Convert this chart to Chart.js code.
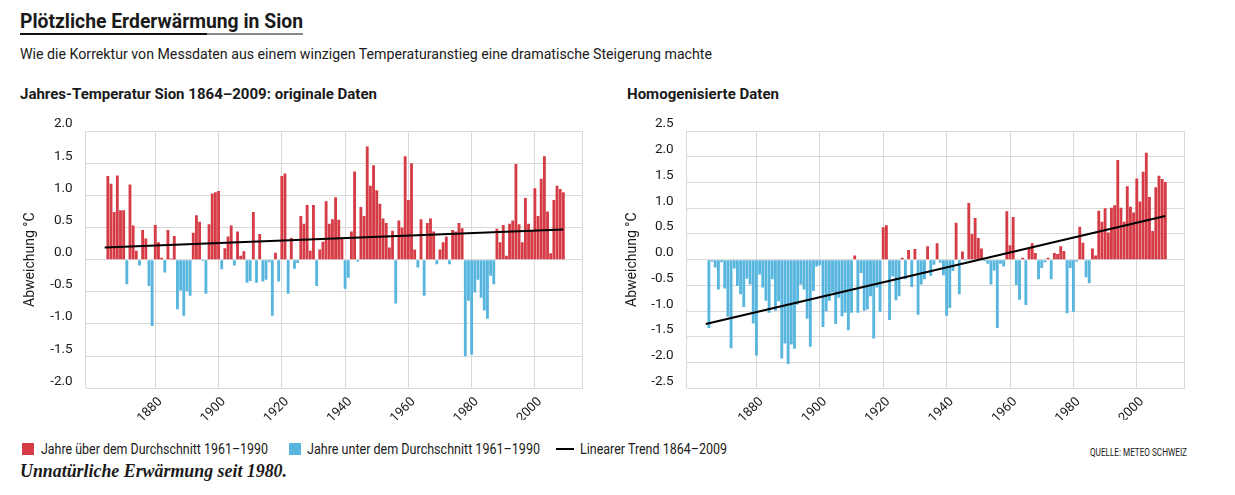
<!DOCTYPE html>
<html lang="de">
<head>
<meta charset="utf-8">
<title>Plötzliche Erderwärmung in Sion</title>
<script src="https://cdn.jsdelivr.net/npm/chart.js@4.4.0/dist/chart.umd.min.js"></script>
<style>
  body { margin: 0; background: #fff; }
  #page {
    position: relative; width: 1235px; height: 495px; overflow: hidden;
    font-family: Roboto, "Liberation Sans", sans-serif;
    color: #1a1a1a;
  }
  .abs { position: absolute; white-space: nowrap; transform-origin: 0 0; }
  #title { left: 20px; top: 9px; font-size: 21px; line-height: 24px; font-weight: bold; }
  #rule1 { left: 20px; top: 33px; width: 187px; height: 2px; background: #111; }
  #rule2 { left: 207px; top: 33px; width: 96px; height: 2px; background: #888; }
  #subtitle { left: 20px; top: 45px; font-size: 15px; line-height: 18px; }
  .ctitle { top: 85px; font-size: 15.5px; line-height: 18px; font-weight: bold; }
  .box { position: absolute; }
  .swatch { position: absolute; top: 443px; width: 12px; height: 12px; }
  .ltext { top: 441px; font-size: 14px; line-height: 16px; }
  #source { left: 1090px; top: 447px; font-size: 10px; line-height: 12px; }
  #footer { left: 20px; top: 461px; font-family: "Liberation Serif", "DejaVu Serif", serif;
            font-style: italic; font-weight: bold; font-size: 18px; line-height: 20px; }
</style>
</head>
<body>
<div id="page">
  <div class="abs" id="title" data-w="283">Plötzliche Erderwärmung in Sion</div>
  <div class="abs" id="rule1"></div>
  <div class="abs" id="rule2"></div>
  <div class="abs" id="subtitle" data-w="692">Wie die Korrektur von Messdaten aus einem winzigen Temperaturanstieg eine dramatische Steigerung machte</div>

  <div class="abs ctitle" style="left:20px" data-w="357">Jahres-Temperatur Sion 1864–2009: originale Daten</div>
  <div class="abs ctitle" style="left:627px" data-w="152">Homogenisierte Daten</div>

  <div class="box" style="left:10px; top:110px; width:590px; height:310px;"><canvas id="original" width="590" height="310"></canvas></div>
  <div class="box" style="left:612px; top:110px; width:590px; height:310px;"><canvas id="homogen" width="590" height="310"></canvas></div>

  <div class="swatch" style="left:22px; background:#d63c46"></div>
  <div class="abs ltext" style="left:41px" data-w="227">Jahre über dem Durchschnitt 1961–1990</div>
  <div class="swatch" style="left:289px; background:#58b6de"></div>
  <div class="abs ltext" style="left:307px" data-w="233">Jahre unter dem Durchschnitt 1961–1990</div>
  <div class="abs" style="left:556px; top:448px; width:18px; height:2px; background:#000"></div>
  <div class="abs ltext" style="left:580px" data-w="147">Linearer Trend 1864–2009</div>
  <div class="abs" id="source" data-w="97">QUELLE: METEO SCHWEIZ</div>

  <div class="abs" id="footer" data-w="267">Unnatürliche Erwärmung seit 1980.</div>
</div>

<script>
// Jahre 1865-2009, ein Balken pro Jahr
var firstYear = 1865;
var lastYear = 2009;

// Abweichung vom Mittel 1961-1990, originale Messreihe (°C)
var originalTemps = [
  1.30, 1.18, 0.74, 1.31, 0.77, 0.77, -0.38, 1.17, 0.53, 0.14,
  -0.09, 0.46, 0.33, -0.41, -1.03, 0.54, 0.27, 0.03, -0.20, 0.46,
  0.02, 0.37, -0.77, -0.48, -0.87, -0.49, -0.56, 0.42, 0.69, 0.59,
  -0.02, -0.53, 0.55, 1.03, 1.05, 1.07, -0.15, 0.18, 0.36, 0.53,
  -0.09, 0.44, 0.06, 0.13, -0.36, -0.33, 0.74, -0.36, 0.40, -0.34,
  -0.31, -0.04, -0.87, 0.11, -0.34, 1.30, 1.34, -0.53, 0.34, -0.14,
  -0.05, 0.68, 0.56, 0.85, 0.14, 0.85, -0.41, 0.16, 0.28, 0.91,
  0.56, 0.63, 0.97, 0.62, 0.34, -0.45, -0.28, 0.44, 1.37, -0.03,
  0.82, 0.68, 1.76, 1.15, 1.47, 1.08, 0.87, 0.64, 0.57, 0.19,
  0.45, -0.68, 0.61, 0.50, 1.61, 0.93, 1.50, 0.16, -0.12, 0.63,
  -0.56, 0.57, 0.64, 0.44, -0.07, 0.16, 0.27, 0.36, -0.07, 0.46,
  0.44, 0.57, 0.49, -1.50, -0.64, -1.48, -0.51, -0.31, -0.59, -0.79,
  -0.92, -0.25, -0.38, 0.48, 0.27, 0.54, 0.06, 0.56, 0.61, 1.49,
  0.55, 0.27, 0.96, 0.56, 0.46, 1.11, 0.68, 1.26, 1.61, 0.75,
  0.10, 0.93, 1.15, 1.10, 1.05
];

// Abweichung, homogenisierte Reihe (°C)
var homogenTemps = [
  -1.33, -0.04, -0.15, -0.58, -0.05, -0.56, -1.11, -1.72, -0.17, -0.51,
  -0.67, -0.92, -0.37, -0.48, -1.24, -1.86, -0.29, -0.54, -0.80, -1.03,
  -0.38, -0.99, -0.81, -1.92, -1.63, -2.03, -1.65, -1.73, -0.87, -0.48,
  -0.58, -1.15, -1.69, -0.61, -0.13, -0.11, -1.31, -1.00, -0.80, -0.64,
  -1.25, -0.74, -1.10, -1.03, -1.37, -1.03, 0.08, -1.03, -0.26, -0.99,
  -0.97, -0.71, -1.53, -0.54, -1.01, 0.63, 0.67, -1.17, -0.32, -0.79,
  -0.71, 0.04, -0.38, 0.19, -0.53, 0.21, -1.07, -0.48, -0.38, 0.26,
  -0.31, -0.10, 0.32, -0.06, -0.30, -1.09, -0.94, -0.22, 0.72, -0.67,
  0.16, -0.02, 1.10, 0.50, 0.81, 0.42, 0.22, -0.03, -0.08, -0.48,
  -0.21, -1.33, -0.08, -0.13, 0.94, 0.28, 0.83, -0.49, -0.78, 0.04,
  -0.88, 0.22, 0.32, 0.13, -0.38, -0.16, -0.05, 0.04, -0.38, 0.13,
  0.11, 0.26, 0.17, -1.04, -0.16, -1.01, -0.04, 0.64, 0.33, -0.34,
  -0.46, 0.22, 0.08, 0.95, 0.74, 1.00, 0.53, 1.01, 1.06, 1.94,
  1.01, 0.74, 1.43, 1.03, 0.92, 1.58, 1.13, 1.71, 2.08, 1.22,
  0.56, 1.41, 1.63, 1.57, 1.51
];

// linearer Trend 1864-2009
var trendYears = [1864, 2009];
var trendOriginal = [0.19, 0.47];
var trendHomogen = [-1.25, 0.85];

var xTicks = [1880, 1900, 1920, 1940, 1960, 1980, 2000];
var yTicksOriginal = [-2, -1.5, -1, -0.5, 0, 0.5, 1, 1.5, 2];
var yTicksHomogen = [-2.5, -2, -1.5, -1, -0.5, 0, 0.5, 1, 1.5, 2, 2.5];

var years = [];
for (var y = firstYear; y <= lastYear; y++) years.push(y);

var RED = '#d63c46';
var BLUE = '#58b6de';
var GRID = '#d9d9d9';
var FONT = 'Roboto, "Liberation Sans", sans-serif';

// condensed look: squeeze each text block to the width it has in the print layout
document.querySelectorAll('[data-w]').forEach(function(el) {
    var w = el.getBoundingClientRect().width;
    el.style.transform = 'scaleX(' + (el.dataset.w / w) + ')';
});

function makeChart(id, values, trend, yTicks, yAxisWidth, padRight) {
    var bars = years.map(function(yr, i) { return { x: yr, y: values[i] }; });
    var line = trendYears.map(function(yr, i) { return { x: yr, y: trend[i] }; });

    return new Chart(document.getElementById(id), {
        data: {
            datasets: [{
                type: 'line',
                data: line,
                borderColor: '#000',
                borderWidth: 2,
                pointRadius: 0,
                order: 0
            }, {
                type: 'bar',
                data: bars,
                backgroundColor: function(ctx) {
                    return ctx.raw && ctx.raw.y >= 0 ? RED : BLUE;
                },
                barPercentage: 0.9,
                categoryPercentage: 1,
                order: 1
            }]
        },
        options: {
            responsive: false,
            animation: false,
            layout: { padding: { top: 18.3, right: padRight, left: 0, bottom: 0 } },
            plugins: { legend: { display: false }, tooltip: { enabled: false } },
            scales: {
                x: {
                    type: 'linear',
                    min: 1858,
                    max: 2015.2,
                    offset: false,
                    afterBuildTicks: function(axis) {
                        axis.ticks = [axis.min].concat(xTicks, [axis.max]).map(function(v) { return { value: v }; });
                    },
                    afterFit: function(axis) { axis.height = 31.7; },
                    grid: { color: GRID, drawTicks: false, offset: false },
                    border: { display: false },
                    ticks: {
                        autoSkip: false,
                        minRotation: 45,
                        maxRotation: 45,
                        padding: 6,
                        labelOffset: 5,
                        color: '#1a1a1a',
                        font: { family: FONT, size: 13 },
                        callback: function(v) { return xTicks.indexOf(v) >= 0 ? String(v) : ''; }
                    }
                },
                y: {
                    min: yTicks[0],
                    max: yTicks[yTicks.length - 1],
                    afterBuildTicks: function(axis) {
                        axis.ticks = yTicks.map(function(v) { return { value: v }; });
                    },
                    afterFit: function(axis) { axis.width = yAxisWidth; },
                    grid: { color: GRID, drawTicks: false },
                    border: { display: false },
                    title: {
                        display: true,
                        text: 'Abweichung °C',
                        color: '#1a1a1a',
                        font: { family: FONT, size: 14 },
                        padding: { top: 12, bottom: 0 }
                    },
                    ticks: {
                        padding: 13,
                        labelOffset: -7,
                        color: '#1a1a1a',
                        font: { family: FONT, size: 13.5 },
                        callback: function(v) { return v.toFixed(1); }
                    }
                }
            }
        }
    });
}

makeChart('original', originalTemps, trendOriginal, yTicksOriginal, 75.7, 14.3);
makeChart('homogen', homogenTemps, trendHomogen, yTicksHomogen, 74.7, 15.7);
</script>
</body>
</html>
